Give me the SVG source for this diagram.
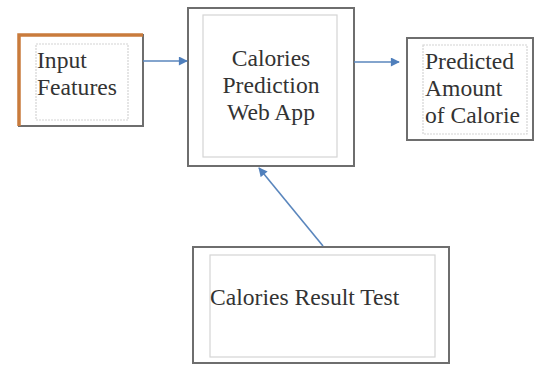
<svg xmlns="http://www.w3.org/2000/svg" width="537" height="366" viewBox="0 0 537 366">
<style>
.outer{fill:#fff;stroke:#6e6e6e;stroke-width:2}
.inner{fill:none;stroke:#d4d4d4;stroke-width:1.2}
.t{font-family:"Liberation Serif","Times New Roman",serif;font-size:23.6px;fill:#333}
.c{text-anchor:middle}
.conn{stroke:#5a86bd;stroke-width:1.6;fill:none}
</style>
<defs>
<marker id="ah" viewBox="0 0 10 10" refX="9" refY="5" markerWidth="10" markerHeight="9" markerUnits="userSpaceOnUse" orient="auto">
<path d="M0,0 L10,5 L0,10 z" fill="#4f7fbc"/>
</marker>
</defs>
<rect width="537" height="366" fill="#fff"/>
<g id="input-features">
<rect class="outer" x="19" y="35" width="124" height="91"/>
<polyline points="19,126 19,35 143,35" fill="none" stroke="#c97b3c" stroke-width="3.5"/>
<rect class="inner" x="36" y="44" width="92" height="76" stroke-dasharray="2,1"/>
<text class="t" x="37" y="68">Input</text>
<text class="t" x="37" y="95">Features</text>
</g>
<g id="web-app">
<rect class="outer" x="188" y="8" width="166" height="158"/>
<rect class="inner" x="203" y="15" width="134" height="142"/>
<text class="t c" x="271" y="66">Calories</text>
<text class="t c" x="271" y="93">Prediction</text>
<text class="t c" x="271" y="120">Web App</text>
</g>
<g id="predicted-amount">
<rect class="outer" x="407" y="38" width="126" height="102"/>
<rect class="inner" x="423" y="45" width="104" height="89" stroke-dasharray="2,1"/>
<text class="t" x="425" y="69">Predicted</text>
<text class="t" x="425" y="96">Amount</text>
<text class="t" x="425" y="123">of Calorie</text>
</g>
<g id="result-test">
<rect class="outer" x="193" y="247" width="256" height="116"/>
<rect class="inner" x="210" y="255" width="225" height="102"/>
<text class="t" x="210" y="305">Calories Result Test</text>
</g>
<g id="connectors">
<line class="conn" x1="143" y1="61" x2="187" y2="61" marker-end="url(#ah)"/>
<line class="conn" x1="354" y1="62" x2="399" y2="62" marker-end="url(#ah)"/>
<line class="conn" x1="323" y1="246" x2="259" y2="168" marker-end="url(#ah)"/>
</g>
</svg>
